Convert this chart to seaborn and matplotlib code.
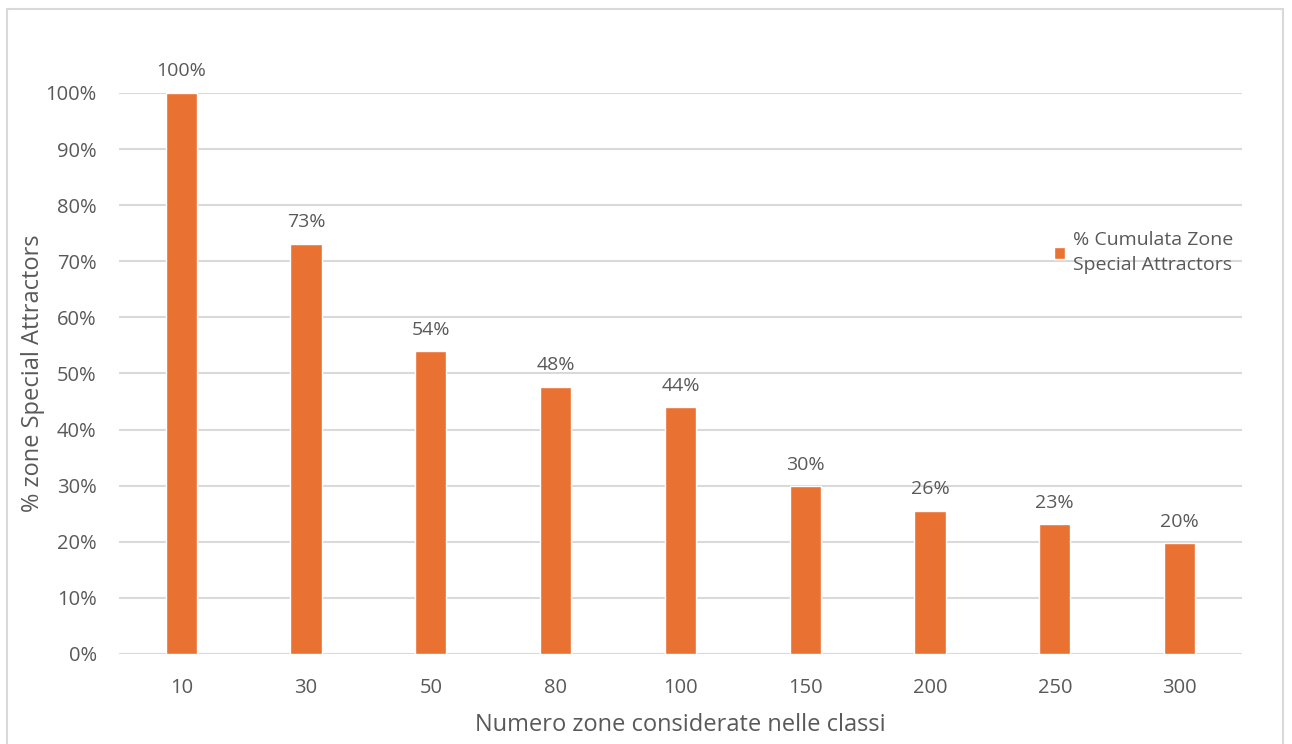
import matplotlib
matplotlib.use("Agg")
import matplotlib.pyplot as plt
import seaborn as sns
import pandas as pd
from matplotlib.patches import Rectangle
from matplotlib.ticker import PercentFormatter

# dati
classi = ["10", "30", "50", "80", "100", "150", "200", "250", "300"]
perc_cumulata = [100.0, 73.1, 54.0, 47.6, 44.0, 29.9, 25.5, 23.1, 19.7]
serie = "% Cumulata Zone\nSpecial Attractors"

df = pd.DataFrame({"classe": classi, "perc": perc_cumulata, "serie": serie})

sns.set_style("white")
plt.rcParams["font.family"] = ["Open Sans", "DejaVu Sans"]

grigio = "#595959"
arancio = "#E97132"

fig = plt.figure(figsize=(12.92, 7.44), dpi=100)
ax = fig.add_axes([0.092, 0.121, 0.8693, 0.754])

sns.barplot(data=df, x="classe", y="perc", hue="serie", palette=[arancio],
            width=0.25, ax=ax, saturation=1)

for c in ax.containers:
    ax.bar_label(c, labels=[f"{v:.0f}%" for v in c.datavalues], padding=9,
                 fontsize=14, color=grigio)

ax.set_ylim(0, 100)
ax.set_yticks(range(0, 101, 10))
ax.yaxis.set_major_formatter(PercentFormatter(decimals=0))
ax.set_xlim(-0.5, len(classi) - 0.5)
ax.grid(axis="y", color="#D9D9D9", linewidth=1.5)
ax.set_axisbelow(True)
for s in ax.spines.values():
    s.set_visible(False)
ax.tick_params(axis="both", length=0, labelsize=14.5, labelcolor=grigio)
ax.tick_params(axis="x", pad=17)
ax.tick_params(axis="y", pad=16)

ax.set_xlabel("Numero zone considerate nelle classi", fontsize=17, color=grigio, labelpad=11)
ax.set_ylabel("% zone Special Attractors", fontsize=17, color=grigio, labelpad=0)

leg = ax.legend(loc="upper right", bbox_to_anchor=(1.008, 0.785), frameon=False,
                fontsize=14, labelcolor=grigio, handlelength=0.6, handleheight=0.6,
                handletextpad=0.4)
for t in leg.get_texts():
    t.set_linespacing(1.5)

# cornice esterna del grafico
fig.patches.append(Rectangle((7 / 1292, -0.05), 1276 / 1292, 1 - 9 / 744 + 0.05,
                             transform=fig.transFigure, fill=False,
                             edgecolor="#D9D9D9", linewidth=1.5))

fig.savefig("out.png", dpi=100)
plt.close(fig)
